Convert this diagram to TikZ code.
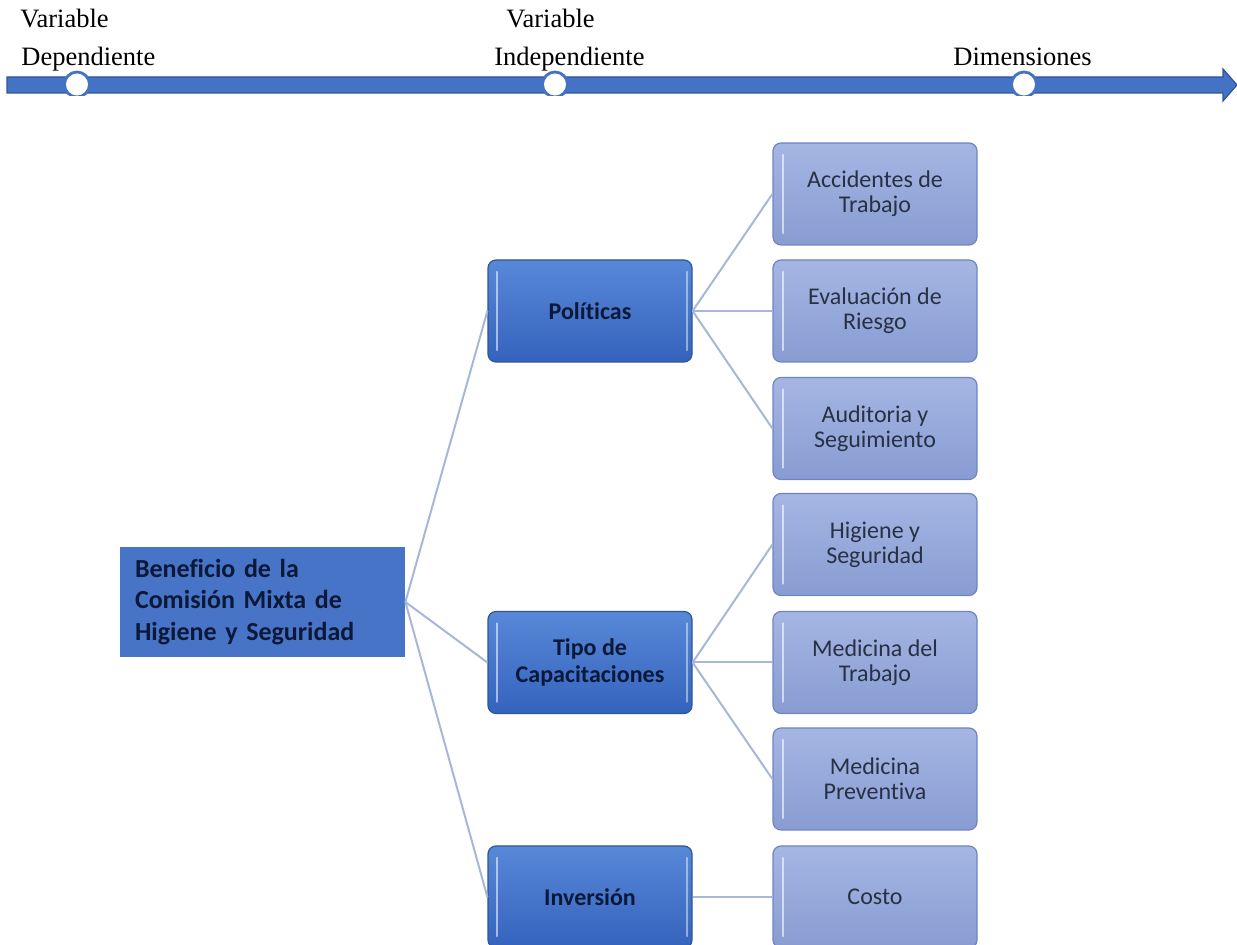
\documentclass[tikz,border=0pt]{standalone}
\usepackage{fontspec}
\setmainfont{Liberation Serif}
\newfontfamily\calfont[Ligatures={NoCommon,NoContextual}]{Carlito}
\definecolor{barblue}{HTML}{4472C4}
\definecolor{bardark}{HTML}{2F5597}
\definecolor{midtop}{HTML}{5888D8}
\definecolor{midbot}{HTML}{3463BD}
\definecolor{midline}{HTML}{2E5597}
\definecolor{rtop}{HTML}{A5B6E3}
\definecolor{rbot}{HTML}{889CD2}
\definecolor{rline}{HTML}{6F85C1}
\definecolor{conncol}{HTML}{A8B7D8}
\definecolor{midtext}{HTML}{0B1838}
\definecolor{rtext}{HTML}{283044}
\definecolor{benfill}{HTML}{4774C6}
\tikzset{
  toptext/.style={anchor=base west, inner sep=0pt, font=\fontsize{13.25}{15}\selectfont},
  dot/.style={circle, draw=barblue, fill=white, line width=1.4pt, minimum size=12.5pt, inner sep=0pt},
  midbox/.style={rectangle, rounded corners=4pt, minimum width=102pt, minimum height=51pt,
    top color=midtop, bottom color=midbot, draw=midline, line width=0.6pt,
    align=center, text=midtext, inner sep=0pt,
    font=\calfont\bfseries\fontsize{12}{13.3}\selectfont,
    path picture={
      \draw[line width=1.3pt, line cap=round, white, opacity=0.55]
        ([shift={(4.5pt,-6pt)}]path picture bounding box.north west) --
        ([shift={(4.5pt,6pt)}]path picture bounding box.south west);
      \draw[line width=1.3pt, line cap=round, white, opacity=0.45]
        ([shift={(-2.5pt,-6pt)}]path picture bounding box.north east) --
        ([shift={(-2.5pt,6pt)}]path picture bounding box.south east);
    }},
  rbox/.style={rectangle, rounded corners=4pt, minimum width=102pt, minimum height=51pt,
    top color=rtop, bottom color=rbot, draw=rline, line width=0.6pt,
    align=center, text=rtext, inner sep=0pt,
    font=\calfont\fontsize{12}{12.5}\selectfont,
    path picture={
      \draw[line width=1.3pt, line cap=round, white, opacity=0.6]
        ([shift={(5pt,-6pt)}]path picture bounding box.north west) --
        ([shift={(5pt,6pt)}]path picture bounding box.south west);
    }},
  benbox/.style={rectangle, fill=benfill, minimum width=142.5pt, minimum height=55pt,
    text width=127.5pt, inner xsep=7.5pt, inner ysep=0pt, align=left, text=midtext,
    font=\calfont\bfseries\fontsize{13}{15.75}\selectfont},
  connector/.style={draw=conncol, line width=1pt}
}
\begin{document}
\begin{tikzpicture}[x=0.5pt,y=-0.5pt]
\useasboundingbox (0,0) rectangle (1237,945);

% timeline
\filldraw[fill=barblue, draw=bardark, line width=0.6pt]
  (7,77) -- (1223,77) -- (1223,69) -- (1237,85) -- (1223,101) -- (1223,93) -- (7,93) -- cycle;
\begin{scope}
  \clip (0,50) rectangle (1237,96);
  \node[dot] (c1) at (77,84.5) {};
  \node[dot] (c2) at (555,84.5) {};
  \node[dot] (c3) at (1024,84.5) {};
\end{scope}

\node[toptext] (t1a) at (20,28) {Variable};
\node[toptext] (t1b) at (21,66) {Dependiente};
\node[toptext] (t2a) at (506,28) {Variable};
\node[toptext] (t2b) at (494,66) {Independiente};
\node[toptext] (t3) at (953,66) {Dimensiones};

% nodes
\node[benbox] (ben) at (262.5,602) {Beneficio de la\\Comisión Mixta de\\Higiene y Seguridad};

\node[midbox] (pol) at (590,311) {Políticas};
\node[midbox] (tipo) at (590,662.5) {Tipo de\\Capacitaciones};
\node[midbox] (inv) at (590,897) {Inversión};

\node[rbox] (acc) at (875,194) {Accidentes de\\Trabajo};
\node[rbox] (eva) at (875,311) {Evaluación de\\Riesgo};
\node[rbox] (aud) at (875,428.5) {Auditoria y\\Seguimiento};
\node[rbox] (hig) at (875,544.5) {Higiene y\\Seguridad};
\node[rbox] (med) at (875,662.5) {Medicina del\\Trabajo};
\node[rbox] (prev) at (875,779) {Medicina\\Preventiva};
\node[rbox] (cos) at (875,897) {Costo};

% connectors
\draw[connector] (ben.east) -- (pol.west);
\draw[connector] (ben.east) -- (tipo.west);
\draw[connector] (ben.east) -- (inv.west);
\draw[connector] (pol.east) -- (acc.west);
\draw[connector] (pol.east) -- (eva.west);
\draw[connector] (pol.east) -- (aud.west);
\draw[connector] (tipo.east) -- (hig.west);
\draw[connector] (tipo.east) -- (med.west);
\draw[connector] (tipo.east) -- (prev.west);
\draw[connector] (inv.east) -- (cos.west);
\end{tikzpicture}
\end{document}
